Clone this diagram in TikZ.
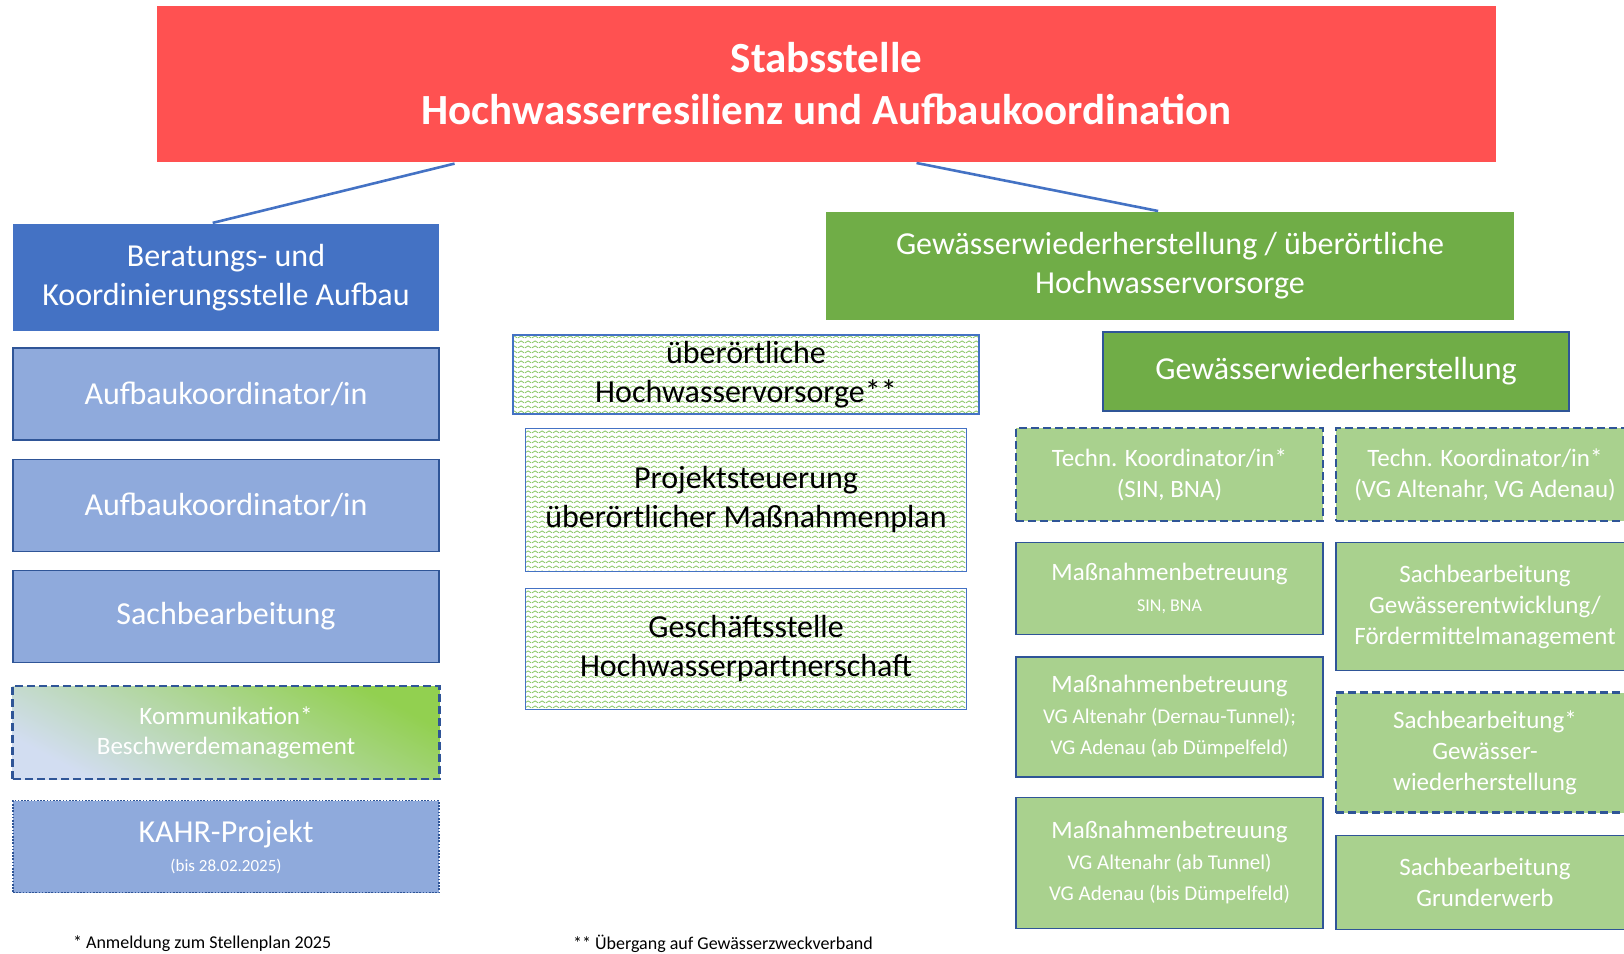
\documentclass[tikz,border=0pt]{standalone}
\usepackage{fontspec}
\setmainfont{Carlito}
\usepackage{tikz}
\usetikzlibrary{positioning,calc,patterns.meta}
\definecolor{stabred}{HTML}{FF5151}
\definecolor{hdblue}{HTML}{4472C4}
\definecolor{ltblue}{HTML}{8FAADC}
\definecolor{edgeblue}{HTML}{2F5597}
\definecolor{hdgreen}{HTML}{70AD47}
\definecolor{ltgreen}{HTML}{A9D18E}
\definecolor{wavegreen}{HTML}{8CC86A}
\definecolor{kommgreen}{HTML}{92D050}
\newcommand{\fs}[2]{\fontsize{#1}{#2}\selectfont}

\tikzdeclarepattern{
  name=wavy,
  type=uncolored,
  bottom left={(0pt,0pt)},
  top right={(3.5pt,2.5pt)},
  tile size={(3.5pt,2.5pt)},
  code={\draw[line width=.5pt] (0pt,.7pt) -- (1.75pt,1.8pt) -- (3.5pt,.7pt);}
}

\begin{document}
\begin{tikzpicture}[x=0.5pt, y=-0.5pt,
  box/.style={rectangle, align=center, inner sep=0pt, text=white},
  head/.style={box, font=\fs{16}{19.5}},
  blbox/.style={box, fill=ltblue, draw=edgeblue, line width=.6pt, minimum width=213pt, minimum height=46pt, font=\fs{16}{19.5}},
  gnbox/.style={box, fill=ltgreen, draw=edgeblue, line width=.6pt, font=\fs{12.5}{15.5}},
  dashbox/.style={draw=edgeblue, line width=1.2pt, dash pattern=on 4pt off 2pt},
  wavebox/.style={box, text=black, draw=hdblue, line width=.6pt, pattern={wavy}, pattern color=wavegreen, font=\fs{16}{19.5}},
  link/.style={draw=hdblue, line width=1.3pt}]
\clip (0,0) rectangle (1624,954);

% Stabsstelle
\node[box, fill=stabred, minimum width=669.5pt, minimum height=78pt, font=\bfseries\fs{21.5}{26}] (stab) at (826.5,84) {Stabsstelle\\Hochwasserresilienz und Aufbaukoordination};

% linke Spalte
\node[head, fill=hdblue, minimum width=213pt, minimum height=53.5pt] (berat) at (226,277.5) {Beratungs- und\\Koordinierungsstelle Aufbau};
\node[blbox, below=8pt of berat] (aufb1) {Aufbaukoordinator/in};
\node[blbox, below=9pt of aufb1] (aufb2) {Aufbaukoordinator/in};
\node[blbox, below=9pt of aufb2] (sachb) {Sachbearbeitung};
\node[blbox, below=11.5pt of sachb, draw=none, fill=none, font=\fs{12.5}{15}] (komm) {Kommunikation*\\Beschwerdemanagement};
\node[blbox, below=10.5pt of komm, dash pattern=on .8pt off .8pt] (kahr) {KAHR-Projekt\\[-5pt]{\fs{8.5}{10}(bis 28.02.2025)}};

% mittlere Spalte
\node[wavebox, minimum width=233pt, minimum height=39.5pt] (uehwv) at (746,374.5) {überörtliche\\Hochwasservorsorge**};
\node[wavebox, below=6.5pt of uehwv, minimum width=220.5pt, minimum height=71.5pt] (projekt) {Projektsteuerung\\überörtlicher Maßnahmenplan};
\node[wavebox, below=8pt of projekt, minimum width=220.5pt, minimum height=60.5pt] (gesch) {Geschäftsstelle\\Hochwasserpartnerschaft};

% rechte Spalte
\node[head, fill=hdgreen, minimum width=344pt, minimum height=54pt] (gwh) at (1170,266) {Gewässerwiederherstellung / überörtliche\\Hochwasservorsorge};
\node[head, fill=hdgreen, draw=edgeblue, line width=.6pt, minimum width=233pt, minimum height=39.5pt] (gwsub) at (1336,371.5) {Gewässerwiederherstellung};

\node[gnbox, dashbox, minimum width=153.5pt, minimum height=46.5pt] (techA) at (1169.5,474.5) {Techn. Koordinator/in*\\(SIN, BNA)};
\node[gnbox, below=10pt of techA, minimum width=153.5pt, minimum height=46pt] (massA1) {Maßnahmenbetreuung\\{\fs{9}{12}SIN, BNA}};
\node[gnbox, below=10.5pt of massA1, minimum width=153.5pt, minimum height=60pt] (massA2) {Maßnahmenbetreuung\\{\fs{10.5}{13}VG Altenahr (Dernau-Tunnel);}\\{\fs{10.5}{13}VG Adenau (ab Dümpelfeld)}};
\node[gnbox, below=9.5pt of massA2, minimum width=153.5pt, minimum height=65.5pt] (massA3) {Maßnahmenbetreuung\\{\fs{10.5}{13}VG Altenahr (ab Tunnel)}\\{\fs{10.5}{13}VG Adenau (bis Dümpelfeld)}};

\node[gnbox, dashbox, minimum width=149pt, minimum height=46.5pt] (techB) at (1485,474.5) {Techn. Koordinator/in*\\(VG Altenahr, VG Adenau)};
\node[gnbox, below=10pt of techB, minimum width=149pt, minimum height=64pt] (sachB1) {Sachbearbeitung\\Gewässerentwicklung/\\Fördermittelmanagement};
\node[gnbox, dashbox, below=10pt of sachB1, minimum width=149pt, minimum height=60pt] (sachB2) {Sachbearbeitung*\\Gewässer-\\wiederherstellung};
\node[gnbox, below=10.5pt of sachB2, minimum width=149pt, minimum height=47pt] (sachB3) {Sachbearbeitung\\Grunderwerb};

% Verlauf hinter Kommunikation
\shade[left color=kommgreen, middle color=ltblue!75, right color=ltblue!40, shading angle=-28]
  (komm.south west) rectangle (komm.north east);
\node[box, font=\fs{12.5}{15}] at (komm.center) {Kommunikation*\\Beschwerdemanagement};
\draw[dashbox] (komm.south west) rectangle (komm.north east);

% Verbindungen
\draw[link, shorten <=2.5pt, shorten >=1.5pt] ($(stab.south west)!0.226!(stab.south east)$) -- ($(berat.north west)!0.462!(berat.north east)$);
\draw[link, shorten <=1.5pt, shorten >=1.5pt] ($(stab.south west)!0.565!(stab.south east)$) -- ($(gwh.north west)!0.487!(gwh.north east)$);

% Fussnoten
\node[anchor=west, font=\fs{9}{11}] (fn1) at (66,944) {* Anmeldung zum Stellenplan 2025};
\node[anchor=west, font=\fs{9}{11}] (fn2) at (566,944) {** Übergang auf Gewässerzweckverband};
\end{tikzpicture}
\end{document}
